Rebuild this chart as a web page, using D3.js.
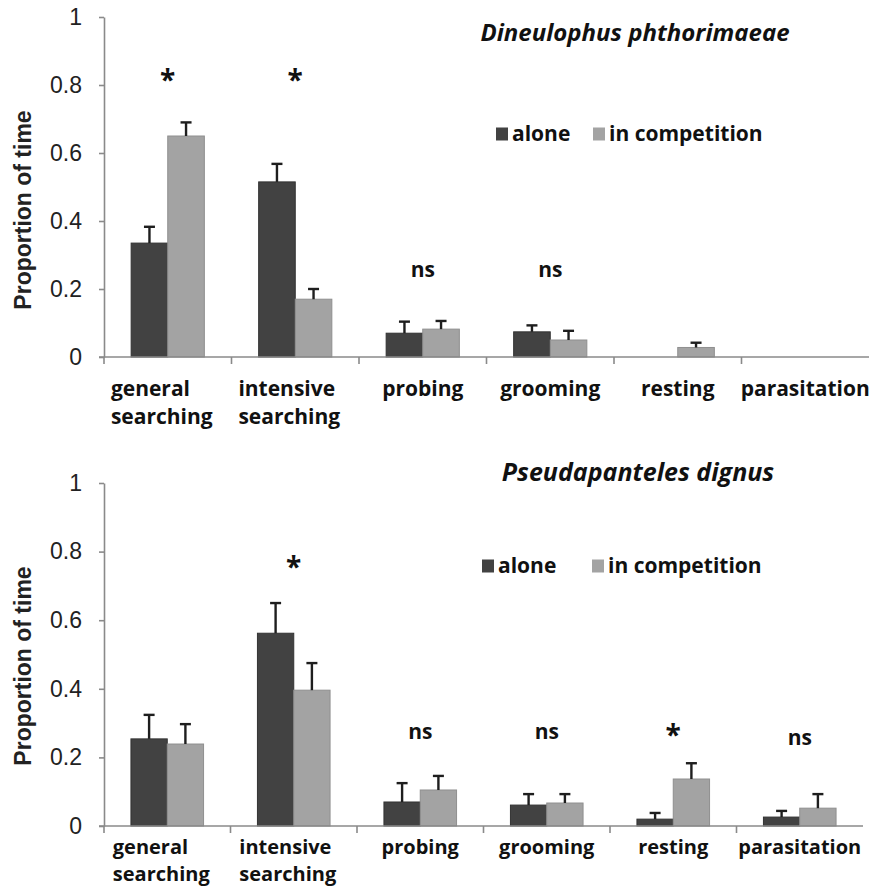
<!DOCTYPE html>
<html>
<head>
<meta charset="utf-8">
<script src="https://cdn.jsdelivr.net/npm/d3@7"></script>
<style>
  html, body { margin: 0; padding: 0; background: #fff; }
  svg { display: block; }
</style>
</head>
<body>
<svg id="chart" width="874" height="888"></svg>
<script>
// ---- data ----
const categories = ["general searching", "intensive searching", "probing", "grooming", "resting", "parasitation"];
const series = ["alone", "in competition"];
const yTicks = [0, 0.2, 0.4, 0.6, 0.8, 1];
const yTickLabels = ["0", "0.2", "0.4", "0.6", "0.8", "1"];

// Dineulophus phthorimaeae
const dpAlone = [0.335, 0.515, 0.070, 0.074, 0.000, 0.000];
const dpAloneSE = [0.048, 0.053, 0.034, 0.019, 0.000, 0.000];
const dpComp = [0.650, 0.170, 0.082, 0.050, 0.028, 0.000];
const dpCompSE = [0.040, 0.030, 0.024, 0.027, 0.014, 0.000];
const dpSig = ["*", "*", "ns", "ns", "", ""];
const dpSigAt = [0.83, 0.83, 0.256, 0.256, 0, 0];

// Pseudapanteles dignus
const pdAlone = [0.254, 0.562, 0.070, 0.061, 0.020, 0.026];
const pdAloneSE = [0.070, 0.088, 0.055, 0.032, 0.018, 0.018];
const pdComp = [0.239, 0.396, 0.105, 0.067, 0.137, 0.052];
const pdCompSE = [0.058, 0.079, 0.041, 0.026, 0.046, 0.041];
const pdSig = ["", "*", "ns", "ns", "*", "ns"];
const pdSigAt = [0, 0.77, 0.274, 0.274, 0.28, 0.257];

// ---- layout / style ----
const colors = ["#424242", "#a3a3a3"];
const strokes = ["#333333", "#8f8f8f"];
const axisColor = "#8a8a8a";
const labelFont = "'Open Sans', 'Noto Sans', sans-serif";
const numFont = "'Liberation Sans', Arial, sans-serif";

const panels = [
  { title: "Dineulophus phthorimaeae", values: [dpAlone, dpComp], se: [dpAloneSE, dpCompSE],
    sig: dpSig, sigAt: dpSigAt,
    x0: 104, x1: 869, yTop: 17, yBottom: 357, titleX: 635, titleY: 41, titleSize: 24,
    legendX: 496, legendY: 134, legendGap: 97, catY: 396, catGap: 28, catSize: 21, yLabelY: 210 },
  { title: "Pseudapanteles dignus", values: [pdAlone, pdComp], se: [pdAloneSE, pdCompSE],
    sig: pdSig, sigAt: pdSigAt,
    x0: 104, x1: 863, yTop: 483, yBottom: 826, titleX: 638, titleY: 481, titleSize: 25,
    legendX: 482, legendY: 566, legendGap: 110, catY: 854, catGap: 27, catSize: 20, yLabelY: 666 }
];

const svg = d3.select("#chart");

panels.forEach(p => {
  const g = svg.append("g");
  const x = d3.scaleBand().domain(categories).range([p.x0, p.x1]).padding(0);
  const xs = d3.scaleBand().domain(series)
    .range([x.bandwidth() * 0.213, x.bandwidth() * 0.787]).padding(0);
  const y = d3.scaleLinear().domain([0, 1]).range([p.yBottom, p.yTop]);

  // y axis
  const yAxis = d3.axisLeft(y).tickValues(yTicks)
    .tickFormat((d, i) => yTickLabels[i]).tickSize(5).tickSizeOuter(0).tickPadding(17);
  const ya = g.append("g").attr("transform", `translate(${p.x0},0)`).call(yAxis);
  ya.select(".domain").attr("stroke", axisColor).attr("stroke-width", 1.6);
  ya.selectAll(".tick line").attr("stroke", axisColor).attr("stroke-width", 1.6);
  ya.selectAll(".tick text").attr("font-family", numFont).attr("font-size", 23)
    .attr("fill", "#222");

  // bars
  categories.forEach((c, ci) => {
    series.forEach((s, si) => {
      const v = p.values[si][ci];
      const e = p.se[si][ci];
      if (v <= 0) return;
      const bx = x(c) + xs(s);
      g.append("rect")
        .attr("x", bx).attr("y", y(v))
        .attr("width", xs.bandwidth()).attr("height", y(0) - y(v))
        .attr("fill", colors[si]).attr("stroke", strokes[si]).attr("stroke-width", 1);
      if (e > 0) {
        const cx = bx + xs.bandwidth() / 2;
        g.append("line").attr("x1", cx).attr("x2", cx).attr("y1", y(v)).attr("y2", y(v + e))
          .attr("stroke", "#1e1e1e").attr("stroke-width", 2.4);
        g.append("line").attr("x1", cx - 5.5).attr("x2", cx + 5.5).attr("y1", y(v + e)).attr("y2", y(v + e))
          .attr("stroke", "#1e1e1e").attr("stroke-width", 2.4);
      }
    });
    // significance
    const lab = p.sig[ci];
    if (lab) {
      const cx = x(c) + x.bandwidth() / 2;
      const yy = y(p.sigAt[ci]);
      if (lab === "*") {
        g.append("text").attr("x", cx).attr("y", yy + 15).attr("text-anchor", "middle")
          .attr("font-family", labelFont).attr("font-weight", 700).attr("font-size", 28)
          .attr("fill", "#111").text(lab);
      } else {
        g.append("text").attr("x", cx).attr("y", yy + 7).attr("text-anchor", "middle")
          .attr("font-family", labelFont).attr("font-weight", 700).attr("font-size", 21)
          .attr("fill", "#111").text(lab);
      }
    }
  });

  // x axis line and ticks at category boundaries
  g.append("line").attr("x1", p.x0 - 5).attr("x2", p.x1).attr("y1", y(0)).attr("y2", y(0))
    .attr("stroke", axisColor).attr("stroke-width", 1.6);
  categories.forEach(c => {
    g.append("line").attr("x1", x(c)).attr("x2", x(c)).attr("y1", y(0)).attr("y2", y(0) + 7)
      .attr("stroke", axisColor).attr("stroke-width", 1.6);
  });

  // category labels (each line its own text element)
  categories.forEach(c => {
    const lines = c.split(" ");
    const cx = x(c) + x.bandwidth() / 2;
    const texts = lines.map((ln, li) =>
      g.append("text").attr("font-family", labelFont).attr("font-weight", 700)
        .attr("font-size", p.catSize).attr("fill", "#111")
        .attr("x", cx).attr("y", p.catY + li * p.catGap).text(ln));
    if (lines.length > 1) {
      const w = d3.max(texts, t => t.node().getComputedTextLength());
      texts.forEach(t => t.attr("x", cx - w / 2 - 6));
    } else {
      texts.forEach(t => t.attr("text-anchor", "middle"));
    }
  });

  // y label
  g.append("text")
    .attr("transform", `translate(31,${p.yLabelY}) rotate(-90)`)
    .attr("text-anchor", "middle")
    .attr("font-family", numFont).attr("font-weight", 700).attr("font-size", 23)
    .attr("fill", "#222").text("Proportion of time");

  // title
  g.append("text").attr("x", p.titleX).attr("y", p.titleY).attr("text-anchor", "middle")
    .attr("font-family", labelFont).attr("font-weight", 700).attr("font-style", "italic")
    .attr("font-size", p.titleSize).attr("fill", "#111").text(p.title);

  // legend
  let lx = p.legendX;
  series.forEach((s, si) => {
    g.append("rect").attr("x", lx).attr("y", p.legendY - 6.5).attr("width", 12).attr("height", 13)
      .attr("fill", colors[si]);
    g.append("text").attr("x", lx + 16).attr("y", p.legendY + 7)
      .attr("font-family", labelFont).attr("font-weight", 700).attr("font-size", 21)
      .attr("fill", "#111").text(s);
    lx += p.legendGap;
  });
});
</script>
</body>
</html>
